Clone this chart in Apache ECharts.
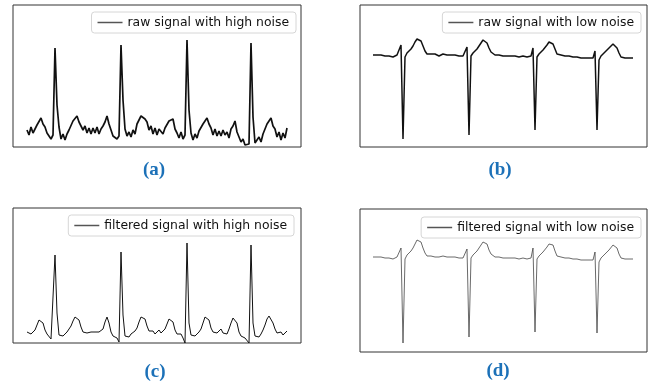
<!DOCTYPE html>
<html>
<head>
<meta charset="utf-8">
<script src="https://cdn.jsdelivr.net/npm/echarts@6/dist/echarts.min.js"></script>
<style>
html,body{margin:0;padding:0;background:#fff;}
#chart{width:655px;height:386px;}
</style>
</head>
<body>
<div id="chart"></div>
<script>
// Signal amplitudes (height above the lower axis limit), one sample per step
var rawHigh = [17,12,20,14,18,22,24,29,23,20,14,15,8,12,99,42,20,8,13,7,
  13,17,19,26,28,31,25,23,17,21,14,19,13,19,14,20,13,18,21,25,
  31,23,17,11,12,8,11,102,47,18,11,15,10,17,13,23,24,31,33,28,
  25,17,21,13,19,12,18,20,13,19,20,26,28,28,18,14,9,15,8,12,
  107,37,14,7,13,9,16,15,23,25,29,23,19,12,18,11,16,11,17,12,
  15,9,18,21,26,15,10,5,8,2,4,3,104,30,4,2,10,5,13,14,
  23,25,29,21,18,10,15,7,14,9,19];
var filtHigh = [11,12,9,10,13,18,23,25,20,13,9,7,4,2,88,30,8,6,7,9,
  11,13,17,22,26,27,23,16,11,9,10,9,11,10,11,9,11,12,14,21,
  26,20,11,7,6,5,1,91,28,7,8,6,9,8,12,15,21,26,28,24,
  17,12,10,12,9,11,13,10,12,14,19,24,25,21,13,9,8,9,5,0,
  100,20,8,6,7,9,11,14,20,26,28,23,15,11,13,10,12,14,10,12,
  9,14,20,25,26,20,11,7,8,5,3,0,98,20,7,8,6,9,13,18,
  24,27,26,20,14,10,9,11,8,10,12];
var rawLow = [92,91,92,91,92,90,91,90,91,89,90,91,92,93,102,8,90,94,96,98,
  101,105,108,109,106,101,96,93,92,93,92,93,92,91,92,93,91,92,91,92,
  91,92,90,91,92,91,90,100,12,91,94,96,98,100,104,107,108,104,99,95,
  93,92,93,92,93,91,92,91,92,91,90,91,89,90,90,91,90,90,89,91,
  99,17,90,93,95,97,99,102,105,106,103,98,93,91,92,91,91,90,91,90,
  90,89,90,89,89,90,89,88,89,88,89,96,17,87,91,93,95,97,99,101,
  103,103,99,94,90,89,89,88,89,88,89];
var filtLow = [95,94,95,94,95,93,94,93,94,93,93,94,95,96,104,9,93,97,99,101,
  104,108,112,113,110,104,99,96,95,96,95,95,96,95,95,96,95,95,94,95,
  94,95,94,94,95,94,93,103,15,94,97,99,101,103,107,110,112,108,102,98,
  96,95,96,95,95,94,95,94,95,94,93,94,92,93,93,94,93,93,92,94,
  104,20,93,96,98,100,102,105,108,110,107,101,96,94,95,94,94,93,94,93,
  93,92,93,92,92,93,92,91,92,91,92,100,19,90,94,96,98,100,102,104,
  107,109,104,98,94,93,93,92,93,92,93];

var seriesNames = ['raw signal with high noise','raw signal with low noise',
  'filtered signal with high noise','filtered signal with low noise'];
var captions = ['(a)','(b)','(c)','(d)'];
var seriesData = [rawHigh, rawLow, filtHigh, filtLow];
var yMax = [142, 142, 135, 143];

var grids = [
  {left:13, top:5, width:288, height:142},
  {left:360, top:5, width:287, height:142},
  {left:13, top:208, width:288, height:135},
  {left:360, top:209, width:287, height:143}
];
var xRanges = [[-7,137],[-6.5,137],[-7,137],[-6.5,137]];
var lineW = [1.7, 1.5, 1.0, 0.8];
var lineC = ['#111','#111','#111','#444'];
var legendPos = [{right:359, top:12},{right:14, top:12},{right:361, top:215},{right:14, top:217}];
var capPos = [[154,170],[500,170],[155,372],[498,371]];

function idx(n){ var a=[]; for(var i=0;i<n;i++) a.push(i); return a; }

var option = {
  animation:false,
  backgroundColor:'#fff',
  grid: grids.map(function(g){ return Object.assign({show:true, borderColor:'#333', borderWidth:1, backgroundColor:'transparent'}, g); }),
  xAxis: grids.map(function(g,k){ return {type:'value', gridIndex:k, min:xRanges[k][0], max:xRanges[k][1],
    axisLine:{show:false}, axisTick:{show:false}, axisLabel:{show:false}, splitLine:{show:false}}; }),
  yAxis: grids.map(function(g,k){ return {type:'value', gridIndex:k, min:0, max:yMax[k],
    axisLine:{show:false}, axisTick:{show:false}, axisLabel:{show:false}, splitLine:{show:false}}; }),
  legend: seriesNames.map(function(n,k){ return Object.assign({
    data:[{name:n, icon:'rect', itemStyle:{color:'#555'}}],
    itemWidth:25, itemHeight:1.5, itemGap:0, itemTextGap:9,
    padding:[3,7,3,6], backgroundColor:'rgba(255,255,255,0.8)',
    borderColor:'#d6d6d6', borderWidth:1, borderRadius:3,
    selectedMode:false,
    textStyle:{fontFamily:'DejaVu Sans', fontSize:12.4, lineHeight:15, color:'#111'}
  }, legendPos[k]); }),
  series: seriesNames.map(function(n,k){
    var d = seriesData[k];
    var pts = idx(d.length).map(function(i){ return [i, d[i]]; });
    return {name:n, type:'line', xAxisIndex:k, yAxisIndex:k, data:pts,
      symbol:'none', showSymbol:false, clip:true,
      lineStyle:{color:lineC[k], width:lineW[k]}, itemStyle:{color:lineC[k]}};
  }),
  graphic: captions.map(function(c,k){ return {type:'text', x:capPos[k][0], y:capPos[k][1],
    style:{text:c, fill:'#1c71b8', font:'bold 19px "Liberation Serif", "Times New Roman", serif',
      textAlign:'center', textVerticalAlign:'middle'}}; })
};

var chart = echarts.init(document.getElementById('chart'), null, {renderer:'canvas'});
chart.setOption(option);
</script>
</body>
</html>
